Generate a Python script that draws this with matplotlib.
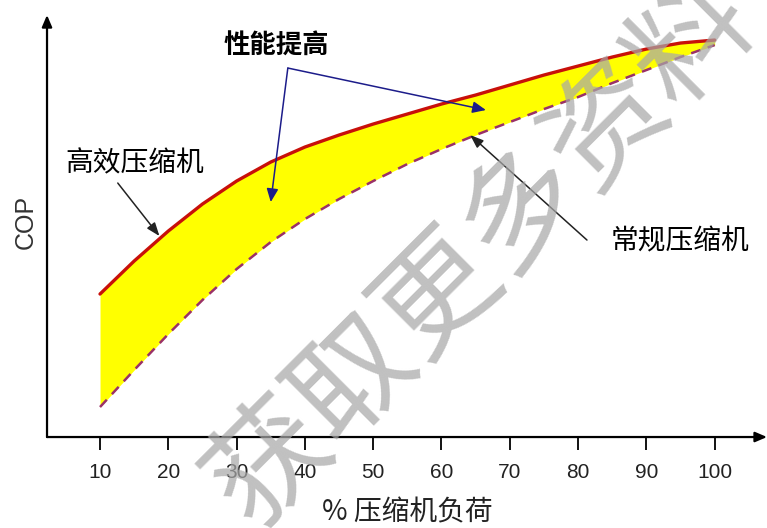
import matplotlib as mpl

mpl.use("Agg")

import matplotlib.pyplot as plt
import numpy as np

# load (%) and COP (arbitrary COP units)
load_pct = [10, 15, 20, 25, 30, 35, 40, 45, 50, 55, 60, 65, 70, 75, 80, 85, 90, 95, 100]
cop_high = [1.43, 1.76, 2.06, 2.33, 2.56, 2.75, 2.90, 3.02, 3.13, 3.23, 3.33, 3.42,
            3.52, 3.62, 3.71, 3.80, 3.88, 3.94, 3.97]
cop_std = [0.30, 0.67, 1.03, 1.37, 1.68, 1.95, 2.18, 2.38, 2.56, 2.73, 2.88, 3.02,
           3.15, 3.28, 3.40, 3.54, 3.67, 3.80, 3.92]
tick_values = [10, 20, 30, 40, 50, 60, 70, 80, 90, 100]

label_high = "高效压缩机"
label_std = "常规压缩机"
label_gain = "性能提高"
x_label = "% 压缩机负荷"
y_label = "COP"
watermark = "获取更多资料"

CJK = ["Noto Sans CJK SC", "DejaVu Sans"]
plt.rcParams["font.family"] = CJK

x = np.array(load_pct)
hi = np.array(cop_high)
lo = np.array(cop_std)

fig = plt.figure(figsize=(7.67, 5.28), dpi=100)
ax = fig.add_axes([0.0613, 0.1723, 0.9387, 0.7992])
ax.set_xlim(2.24, 107.66)
ax.set_ylim(0, 4.22)

ax.fill_between(x, lo, hi, color="#ffff00", linewidth=0, zorder=1)
ax.plot(x, hi, color="#c8100a", linewidth=2.4, solid_capstyle="round", zorder=3)
ax.plot(x, lo, color="#9a3068", linewidth=1.8, dashes=(4, 3), zorder=3)

for side in ["top", "right", "left", "bottom"]:
    ax.spines[side].set_visible(False)
arrow_axis = dict(arrowstyle="-|>,head_length=0.7,head_width=0.3", color="black", lw=1.6,
                  shrinkA=0, shrinkB=0)
ax.annotate("", xy=(1.0, 0), xytext=(0, 0), xycoords="axes fraction",
            arrowprops=arrow_axis, annotation_clip=False)
ax.annotate("", xy=(0, 1.0), xytext=(0, 0), xycoords="axes fraction",
            arrowprops=arrow_axis, annotation_clip=False)

ax.set_xticks(tick_values)
ax.set_xticklabels([str(v) for v in tick_values], family="Liberation Sans", fontsize=15,
                   color="#222222")
ax.tick_params(axis="x", direction="out", length=9.5, width=1.3, pad=9, color="black")
ax.set_yticks([])

ax.set_xlabel(x_label, fontsize=20, color="#222222")
ax.xaxis.set_label_coords(0.5, -0.178)
ax.xaxis.label.set_va("center")
ax.set_ylabel(y_label, family="Liberation Sans", fontsize=18, color="#333333")
ax.yaxis.set_label_coords(-0.03, 0.51)
ax.yaxis.label.set_va("center")

i20 = load_pct.index(20)
i35 = load_pct.index(35)
i65 = load_pct.index(65)

thin = dict(arrowstyle="-|>,head_length=0.8,head_width=0.3", color="#222222", lw=1.1,
            shrinkA=0, shrinkB=0)
ax.annotate("", xy=(x[i20] - 1.3, hi[i20] - 0.05), xytext=(12.6, 2.54), arrowprops=thin,
            zorder=4)
ax.text(15.1, 2.74, label_high, fontsize=20, ha="center", va="center", color="black")

ax.annotate("", xy=(x[i65] - 0.8, lo[i65]), xytext=(81.3, 1.97), arrowprops=thin, zorder=4)
ax.text(94.9, 1.96, label_std, fontsize=20, ha="center", va="center", color="black")

blue = dict(arrowstyle="-|>,head_length=0.8,head_width=0.35", color="#1c1c8a", lw=1.1,
            shrinkA=0, shrinkB=0)
ax.annotate("", xy=(x[i35], (hi[i35] + lo[i35]) / 2), xytext=(37.5, 3.69),
            arrowprops=blue, zorder=4)
ax.annotate("", xy=(x[i65] + 1.5, (hi[i65] + lo[i65]) / 2 + 0.05), xytext=(37.5, 3.69),
            arrowprops=blue, zorder=4)
ax.text(35.8, 3.91, label_gain, fontsize=19, fontweight="bold", ha="center", va="center",
        color="black")

fig.text(0.628, 0.522, watermark, fontsize=86, rotation=45, ha="center", va="center",
         color="#a8a8a8", alpha=0.72, zorder=10)

fig.savefig("out.png", dpi=100)
plt.close(fig)
